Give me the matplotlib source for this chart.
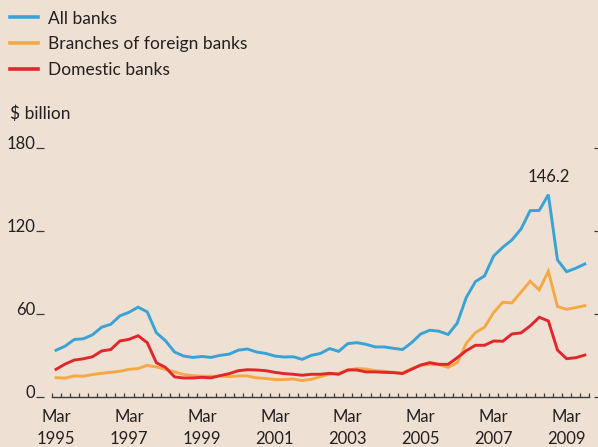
import matplotlib
matplotlib.use("Agg")
import matplotlib.pyplot as plt
from matplotlib.ticker import FixedLocator

plt.rcParams['font.family'] = ['Lato', 'DejaVu Sans']

# Quarterly data, Mar 1995 .. Sep 2009 ($ billion)
all_banks = [33.5, 36.5, 41.3, 41.8, 44.7, 50.2, 52.3, 58.4, 61.0, 64.7,
             61.3, 46.2, 40.4, 32.2, 29.3, 28.3, 29.0, 28.3, 29.8, 30.7,
             33.6, 34.4, 32.2, 31.2, 29.3, 28.6, 28.8, 26.9, 29.8, 31.2,
             34.7, 32.7, 38.3, 39.0, 37.8, 35.9, 35.9, 34.9, 34.0, 39.0,
             45.3, 48.0, 47.3, 44.9, 53.1, 71.8, 83.2, 87.4, 101.8, 108.1,
             113.4, 121.3, 134.6, 134.8, 146.2, 98.9, 90.4, 92.9, 96.0]
foreign_branches = [13.6, 13.3, 14.9, 14.7, 15.9, 16.8, 17.5, 18.3, 19.7, 20.2,
                    22.6, 21.4, 19.7, 17.8, 15.9, 15.1, 14.7, 14.7, 14.9, 14.4,
                    14.9, 14.9, 13.5, 13.0, 12.3, 12.3, 12.7, 11.5, 12.5, 14.4,
                    16.1, 16.8, 19.2, 20.2, 19.9, 18.7, 18.3, 17.5, 17.1, 20.2,
                    22.6, 23.3, 23.1, 21.1, 24.5, 38.5, 46.3, 50.2, 60.8, 68.3,
                    67.8, 75.6, 83.5, 77.2, 90.7, 65.1, 63.2, 64.4, 65.8]
domestic_banks = [19.7, 23.5, 26.4, 27.3, 28.8, 33.0, 34.0, 40.2, 41.4, 44.0,
                  39.0, 24.5, 21.1, 14.2, 13.4, 13.4, 13.9, 13.5, 15.1, 16.6,
                  18.7, 19.4, 19.2, 18.7, 17.5, 16.6, 16.1, 15.4, 16.1, 16.1,
                  16.8, 16.1, 19.2, 19.2, 17.8, 17.8, 17.5, 17.3, 16.6, 19.7,
                  22.8, 24.5, 23.3, 23.3, 28.1, 33.2, 37.1, 37.1, 40.2, 40.0,
                  45.3, 46.1, 51.1, 57.4, 54.7, 33.6, 27.4, 28.1, 30.0]
series_labels = ["All banks", "Branches of foreign banks", "Domestic banks"]
x_tick_labels = ["Mar\n1995", "Mar\n1997", "Mar\n1999", "Mar\n2001",
                 "Mar\n2003", "Mar\n2005", "Mar\n2007", "Mar\n2009"]
y_ticks = [0, 60, 120, 180]
peak_label = "146.2"
unit_label = "$ billion"

bg = "#eee1d3"
col_blue = "#3aa3d5"
col_orange = "#f5a944"
col_red = "#e1262c"
txt = "#231f20"
axc = "#3c3a38"

W, H = 598, 447
fig = plt.figure(figsize=(W / 100, H / 100), dpi=100, facecolor=bg)
ax = fig.add_axes([51.5 / W, (H - 396.5) / H, (589.4 - 51.5) / W, (396.5 - 148) / H])
ax.set_facecolor(bg)

x = list(range(len(all_banks)))
lw = 2.1
l1, = ax.plot(x, all_banks, color=col_blue, lw=lw, solid_joinstyle='miter', label=series_labels[0])
l2, = ax.plot(x, foreign_branches, color=col_orange, lw=lw, solid_joinstyle='miter', label=series_labels[1])
l3, = ax.plot(x, domestic_banks, color=col_red, lw=lw, solid_joinstyle='miter', label=series_labels[2])
l2.set_zorder(2); l3.set_zorder(3); l1.set_zorder(4)

ax.set_xlim(-0.5, len(all_banks) - 0.5)
ax.set_ylim(0, 180)

ax.spines['top'].set_visible(False)
ax.spines['bottom'].set_color(axc)
ax.spines['bottom'].set_linewidth(1.0)
ax.spines['left'].set_visible(False)
ax.spines['left'].set_position(('outward', 5.5))
ax.spines['right'].set_visible(False)
ax.spines['right'].set_position(('outward', 3.5))

ax.set_xticks([0, 8, 16, 24, 32, 40, 48, 56])
ax.set_xticklabels(x_tick_labels, fontsize=12, color=txt, linespacing=1.45)
ax.tick_params(axis='x', which='major', length=0, pad=9)
ax.xaxis.set_minor_locator(FixedLocator([i - 0.5 for i in range(len(all_banks) + 1)]))
ax.tick_params(axis='x', which='minor', direction='in', length=3.2, width=0.9, color=axc)

ax.set_yticks(y_ticks)
ax.yaxis.set_ticks_position('both')
ax.tick_params(axis='y', which='major', direction='out', length=6, width=0.9, color=axc,
               labelleft=False, labelright=False)
for v in y_ticks:
    ax.annotate(str(v), xy=(0, v), xycoords=('axes fraction', 'data'),
                xytext=(-16.5, 4), textcoords='offset pixels',
                ha='right', va='center', fontsize=12, color=txt)

peak_i = max(range(len(all_banks)), key=lambda i: all_banks[i])
ax.annotate(peak_label, xy=(peak_i, all_banks[peak_i]), xytext=(0, 18),
            textcoords='offset pixels', ha='center', va='center',
            fontsize=12, color=txt)

leg = fig.legend(handles=[l1, l2, l3], labels=series_labels, loc='upper left',
                 bbox_to_anchor=(10 / W, 1 - 10.5 / H), frameon=False, fontsize=12.5,
                 handlelength=1.6, handletextpad=0.6, labelspacing=0.57,
                 labelcolor=txt, borderaxespad=0, borderpad=0)
for h in leg.legend_handles:
    h.set_linewidth(2.6)

fig.text(10 / W, 1 - 114 / H, unit_label, ha='left', va='center', fontsize=12.5, color=txt)

fig.savefig("out.png", dpi=100, facecolor=bg)
